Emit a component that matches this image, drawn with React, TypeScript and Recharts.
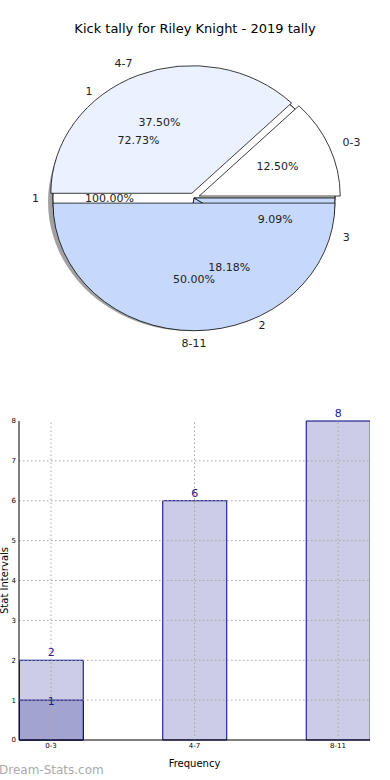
import React from 'react'
import {
  PieChart,
  Pie,
  Cell,
  BarChart,
  Bar,
  XAxis,
  YAxis,
  ReferenceLine,
  LabelList,
} from 'recharts'

// pie: main tally per range
const pieCategories = ['0-3', '4-7', '8-11']
const pieCounts = [2, 6, 8]
const pieColors = ['#ffffff', '#ebf1ff', '#c6d9fd']

// pie: second overlaid tally
const subLabels = ['1', '2', '3']
const subCounts = [8, 2, 1]
const subColors = ['#ffffff', '#c6d9fd', '#c6d9fd']

// pie: single slice
const wholeLabels = ['1']
const wholeCounts = [1]

// bars
const barCategories = ['0-3', '4-7', '8-11']
const barTotals = [2, 6, 8]
const barParts: (number | null)[] = [1, null, null]
const yTicks = [0, 1, 2, 3, 4, 5, 6, 7, 8]
const xTicks = [0, 1, 2]

const FONT = '"DejaVu Sans", Verdana, sans-serif'
const CX = 194
const CY = 198
const R = 141
const SY = 0.905
const EXPLODE = 0.04 * R
const RADIAN = Math.PI / 180

const mainData = pieCategories.map((name, i) => ({ name, value: pieCounts[i] }))
const subData = subLabels.map((name, i) => ({ name, value: subCounts[i] }))
const wholeData = wholeLabels.map((name, i) => ({ name, value: wholeCounts[i] }))

const barData = barCategories.map((name, i) => ({
  x: i,
  name,
  total: barTotals[i],
  part: barParts[i],
}))

// mid angle of each main slice, used for the explode offset
const totalMain = pieCounts.reduce((a, b) => a + b, 0)
const midAngles = pieCounts.map((v, i) => {
  const before = pieCounts.slice(0, i).reduce((a, b) => a + b, 0)
  return ((before + v / 2) / totalMain) * 360
})

function textAt(x: number, y: number, value: string, anchor: string, key: string) {
  return (
    <text
      key={key}
      x={x}
      y={y}
      textAnchor={anchor}
      dominantBaseline="central"
      fontSize={11}
      fontFamily={FONT}
      fill="#222"
      transform={`translate(${x} ${y}) scale(1 ${1 / SY}) translate(${-x} ${-y})`}
    >
      {value}
    </text>
  )
}

function makeLabel(only: number | null) {
  return (props: any) => {
    const { cx, cy, midAngle, outerRadius, percent, name, index } = props
    if (only !== null && index !== only) return null
    const c = Math.cos(-midAngle * RADIAN)
    const s = Math.sin(-midAngle * RADIAN)
    const anchor = c > 0.001 ? 'start' : c < -0.001 ? 'end' : 'middle'
    return (
      <g>
        {textAt(cx + outerRadius * 1.1 * c, cy + outerRadius * 1.1 * s, name, anchor, 'n')}
        {textAt(cx + outerRadius * 0.6 * c, cy + outerRadius * 0.6 * s, `${(percent * 100).toFixed(2)}%`, 'middle', 'p')}
      </g>
    )
  }
}

function PieBlock() {
  return (
    <div
      style={{
        position: 'absolute',
        left: 0,
        top: 0,
        width: 390,
        height: 400,
        transform: `scaleY(${SY})`,
        transformOrigin: `${CX}px ${CY}px`,
      }}
    >
      <PieChart width={390} height={400} margin={{ top: 0, right: 0, bottom: 0, left: 0 }}>
        <Pie
          data={wholeData}
          dataKey="value"
          cx={CX - 3}
          cy={CY + 4}
          outerRadius={R + 2}
          isAnimationActive={false}
          stroke="none"
          fill="#8a8a8a"
          fillOpacity={0.8}
        />
        <Pie
          data={wholeData}
          dataKey="value"
          nameKey="name"
          cx={CX}
          cy={CY}
          outerRadius={R}
          isAnimationActive={false}
          labelLine={false}
          label={makeLabel(null)}
        >
          <Cell fill="#ffffff" stroke="#000" strokeWidth={0.8} />
        </Pie>
        <Pie
          data={subData}
          dataKey="value"
          nameKey="name"
          cx={CX}
          cy={CY}
          outerRadius={R}
          isAnimationActive={false}
          labelLine={false}
          label={makeLabel(null)}
        >
          {subData.map((d, i) => (
            <Cell key={d.name} fill={subColors[i]} stroke="#000" strokeWidth={0.8} />
          ))}
        </Pie>
        {mainData.map((_, k) => (
          <Pie
            key={`main-${k}`}
            data={mainData}
            dataKey="value"
            nameKey="name"
            cx={CX + EXPLODE * Math.cos(midAngles[k] * RADIAN)}
            cy={CY - EXPLODE * Math.sin(midAngles[k] * RADIAN)}
            outerRadius={R}
            isAnimationActive={false}
            labelLine={false}
            label={makeLabel(k)}
          >
            {mainData.map((d, i) => (
              <Cell
                key={d.name}
                fill={i === k ? pieColors[i] : 'none'}
                stroke={i === k ? '#000' : 'none'}
                strokeWidth={0.8}
              />
            ))}
          </Pie>
        ))}
      </PieChart>
    </div>
  )
}

function BarBlock() {
  return (
    <div style={{ position: 'absolute', left: 0, top: 400, width: 390, height: 380 }}>
      <BarChart
        width={390}
        height={380}
        data={barData}
        margin={{ top: 21, right: 20, left: 0, bottom: 0 }}
        barGap={0}
      >
        <XAxis
          xAxisId="a"
          dataKey="x"
          type="number"
          domain={[-0.223, 2.223]}
          ticks={xTicks}
          allowDataOverflow
          tickFormatter={(v: number) => barCategories[v]}
          tick={{ fontSize: 7, fill: '#000', fontFamily: FONT }}
          tickLine={false}
          tickSize={3}
          tickMargin={0}
          height={40}
          axisLine={{ stroke: '#000', strokeWidth: 1 }}
          label={{ value: 'Frequency', position: 'insideBottom', offset: 13, fontSize: 10, fill: '#000', fontFamily: FONT }}
        />
        <XAxis
          xAxisId="b"
          dataKey="x"
          type="number"
          orientation="top"
          domain={[-0.223, 2.223]}
          ticks={xTicks}
          allowDataOverflow
          tick={false}
          tickLine={false}
          height={0}
          axisLine={{ stroke: '#000', strokeWidth: 1 }}
        />
        <YAxis
          yAxisId={0}
          domain={[0, 8]}
          ticks={yTicks}
          width={19}
          tick={{ fontSize: 7, fill: '#000', fontFamily: FONT }}
          tickLine={false}
          tickSize={3}
          tickMargin={0}
          axisLine={{ stroke: '#000', strokeWidth: 1 }}
          label={{
            value: 'Stat Intervals',
            angle: -90,
            position: 'insideLeft',
            offset: 4,
            fontSize: 10,
            fill: '#000',
            fontFamily: FONT,
            style: { textAnchor: 'middle' },
          }}
        />
        <YAxis
          yAxisId="r"
          orientation="right"
          domain={[0, 8]}
          ticks={yTicks}
          width={0}
          tick={false}
          tickLine={false}
          axisLine={{ stroke: '#000', strokeWidth: 1 }}
        />
        <Bar
          xAxisId="a"
          yAxisId={0}
          dataKey="total"
          barSize={64}
          fill="#ccccE6"
          stroke="#000080"
          strokeWidth={1}
          isAnimationActive={false}
        >
          <LabelList dataKey="total" position="top" offset={4} fontSize={11} fill="#1a1a8c" fontFamily={FONT} />
        </Bar>
        <Bar
          xAxisId="b"
          yAxisId={0}
          dataKey="part"
          barSize={64}
          fill="#a3a3d0"
          stroke="#000080"
          strokeWidth={1}
          isAnimationActive={false}
        >
          <LabelList dataKey="part" position="top" offset={-5} fontSize={11} fill="#1a1a8c" fontFamily={FONT} />
        </Bar>
        {yTicks.slice(1, -1).map((t) => (
          <ReferenceLine
            key={`gy-${t}`}
            y={t}
            xAxisId="a"
            yAxisId={0}
            stroke="#a8a8a8"
            strokeDasharray="1.5 2.5"
          />
        ))}
        {xTicks.map((t) => (
          <ReferenceLine
            key={`gx-${t}`}
            x={t}
            xAxisId="a"
            yAxisId={0}
            stroke="#a8a8a8"
            strokeDasharray="1.5 2.5"
          />
        ))}
      </BarChart>
    </div>
  )
}

export default function App() {
  return (
    <div style={{ position: 'absolute', left: 0, top: 0, width: 390, height: 780, background: '#fff', overflow: 'hidden' }}>
      <div
        style={{
          position: 'absolute',
          left: 0,
          top: 21,
          width: 390,
          textAlign: 'center',
          fontFamily: FONT,
          fontSize: 13,
          color: '#000',
        }}
      >
        Kick tally for Riley Knight - 2019 tally
      </div>
      <PieBlock />
      <BarBlock />
      <div
        style={{
          position: 'absolute',
          left: -1,
          top: 763,
          fontFamily: FONT,
          fontSize: 12,
          color: '#aaaaaa',
        }}
      >
        Dream-Stats.com
      </div>
    </div>
  )
}
